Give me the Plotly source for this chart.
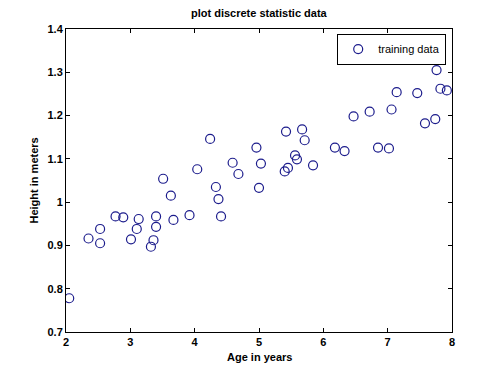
import plotly.graph_objects as go

age = [2.05, 2.35, 2.53, 2.53, 2.77, 2.89, 3.01, 3.10, 3.13, 3.32, 3.36, 3.40, 3.40,
       3.51, 3.63, 3.67, 3.92, 4.04, 4.24, 4.33, 4.37, 4.41, 4.59, 4.68, 4.96, 5.00,
       5.03, 5.40, 5.45, 5.42, 5.56, 5.59, 5.67, 5.71, 5.84, 6.18, 6.33, 6.47, 6.72,
       6.85, 7.02, 7.06, 7.14, 7.46, 7.58, 7.74, 7.76, 7.82, 7.92]
height = [0.778, 0.916, 0.938, 0.905, 0.967, 0.965, 0.914, 0.938, 0.961, 0.897, 0.912,
          0.943, 0.967, 1.054, 1.015, 0.959, 0.970, 1.076, 1.146, 1.035, 1.007, 0.967,
          1.091, 1.065, 1.126, 1.033, 1.089, 1.071, 1.079, 1.163, 1.108, 1.099, 1.168,
          1.143, 1.085, 1.126, 1.118, 1.198, 1.209, 1.126, 1.124, 1.214, 1.254, 1.252,
          1.182, 1.192, 1.305, 1.262, 1.258]

x_ticks = [2, 3, 4, 5, 6, 7, 8]
y_ticks = [0.7, 0.8, 0.9, 1.0, 1.1, 1.2, 1.3, 1.4]
y_tick_text = ["0.7", "0.8", "0.9", "1", "1.1", "1.2", "1.3", "1.4"]

bold = dict(family="Liberation Sans", size=11, color="black", weight="bold")

fig = go.Figure()
fig.add_trace(go.Scatter(
    x=age, y=height, mode="markers", name="training data",
    marker=dict(symbol="circle-open", size=9, color="#1c1c8c", line=dict(width=1.2)),
))

axis_common = dict(
    showgrid=False, zeroline=False, showline=True, linecolor="black", linewidth=1,
    mirror="ticks", ticks="inside", ticklen=4, tickcolor="black",
    tickfont=bold, automargin=False,
)

fig.update_layout(
    width=492, height=367,
    margin=dict(l=58, r=48, t=21, b=43),
    paper_bgcolor="white", plot_bgcolor="white",
    xaxis=dict(range=[2, 8], tickvals=x_ticks, **axis_common),
    yaxis=dict(range=[0.7, 1.4], tickvals=y_ticks, ticktext=y_tick_text, **axis_common),
    showlegend=True,
    legend=dict(x=0.985, y=0.985, xanchor="right", yanchor="top",
                bordercolor="black", borderwidth=1, bgcolor="white",
                font=dict(family="Liberation Sans", size=11, color="black")),
    annotations=[
        dict(text="plot discrete statistic data", xref="paper", yref="paper",
             x=0.5, y=1 + 16 / 303, xanchor="center", yanchor="middle",
             showarrow=False, font=bold),
        dict(text="Age in years", xref="paper", yref="paper",
             x=0.5, y=-25 / 303, xanchor="center", yanchor="middle",
             showarrow=False, font=bold),
        dict(text="Height in meters", xref="paper", yref="paper",
             x=-33 / 386, y=0.5, xanchor="center", yanchor="middle",
             textangle=-90, showarrow=False, font=bold),
    ],
)

fig.write_html("out.html")
